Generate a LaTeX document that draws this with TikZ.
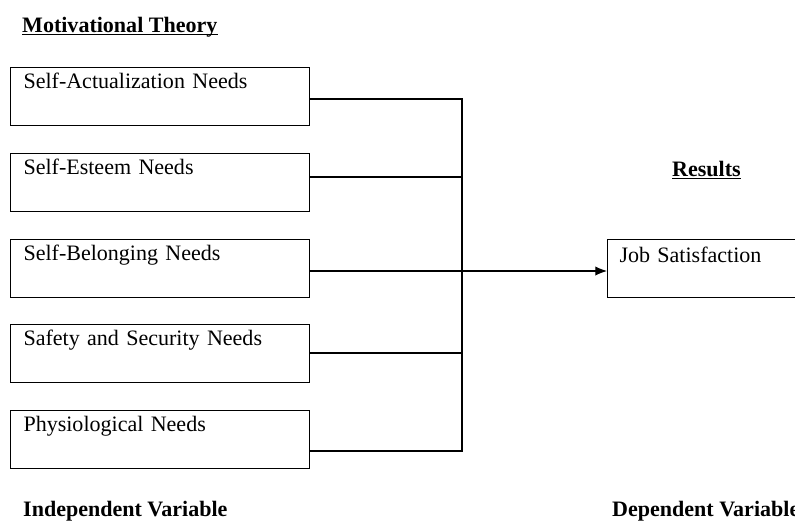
\documentclass[tikz,border=0pt]{standalone}
\usepackage{fontspec}
\setmainfont{Liberation Serif}
\usetikzlibrary{arrows.meta}

\begin{document}
\begin{tikzpicture}[x=0.03cm, y=-0.03cm,
    txt/.style={font=\fontsize{18.8pt}{22pt}\selectfont, inner sep=0pt},
    needbox/.style={txt, draw, line width=0.9pt, anchor=north west, align=left,
      inner xsep=0.39cm, inner ysep=0pt, text width=8.19cm,
      text height=0.63cm, text depth=1.11cm},
    heading/.style={txt, font=\fontsize{18.8pt}{22pt}\selectfont\bfseries, anchor=base west},
    link/.style={line width=0.9pt}]

  \useasboundingbox (0,0) rectangle (795,520);

  % Headings
  \node[heading] (mt) at (22,32) {Motivational Theory};
  \draw[line width=0.8pt] ([yshift=-2pt]mt.base west) -- ([yshift=-2pt]mt.base east);
  \node[heading] (res) at (672,176) {Results};
  \draw[line width=0.8pt] ([yshift=-2pt]res.base west) -- ([yshift=-2pt]res.base east);
  \node[heading] (iv) at (23,516) {Independent Variable};
  \node[heading] (dv) at (612,516) {Dependent Variable};

  % Needs (independent variable)
  \node[needbox] (sa) at (10,67)  {Self-Actualization Needs};
  \node[needbox] (se) at (10,153) {Self-Esteem Needs};
  \node[needbox] (sb) at (10,239) {Self-Belonging Needs};
  \node[needbox] (ss) at (10,324) {Safety and Security Needs};
  \node[needbox] (ph) at (10,410) {Physiological Needs};

  % Result (dependent variable)
  \node[needbox, text width=7cm, inner xsep=0.36cm, text height=0.69cm, text depth=1.05cm] (js) at (607,239) {Job Satisfaction};

  % Bus
  \coordinate (j1) at (462,99);
  \coordinate (j2) at (462,177);
  \coordinate (j3) at (462,271);
  \coordinate (j4) at (462,353);
  \coordinate (j5) at (462,451);

  \draw[link] (sa.east |- j1) -- (j1) -- (j5) -- (ph.east |- j5);
  \draw[link] (se.east |- j2) -- (j2);
  \draw[link] (ss.east |- j4) -- (j4);
  \draw[link, -{Latex[length=10pt, width=8pt]}] (sb.east |- j3) -- (js.west |- j3);

\end{tikzpicture}
\end{document}
